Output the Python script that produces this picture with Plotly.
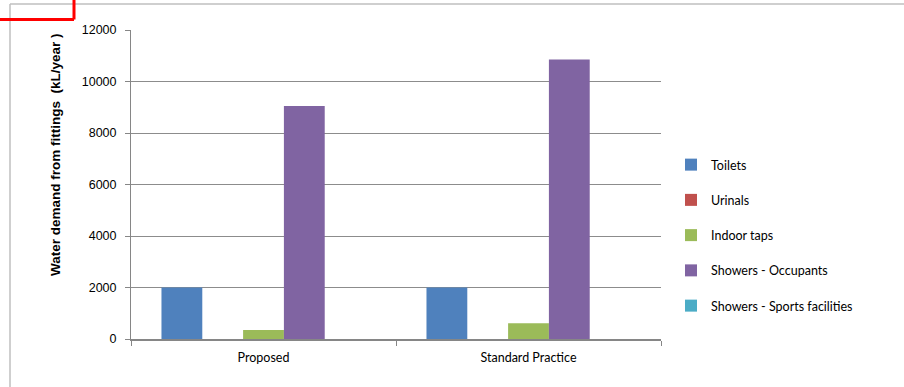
import plotly.graph_objects as go

categories = ["Proposed", "Standard Practice"]
series_names = ["Toilets", "Urinals", "Indoor taps", "Showers - Occupants", "Showers - Sports facilities"]
toilets = [2000, 2000]
urinals = [0, 0]
indoor_taps = [350, 610]
showers_occupants = [9050, 10850]
showers_sports = [0, 0]
colors = ["#4F81BD", "#C0504D", "#9BBB59", "#8064A2", "#4BACC6"]
y_ticks = [0, 2000, 4000, 6000, 8000, 10000, 12000]
y_tick_labels = ["0", "2000", "4000", "6000", "8000", "10000", "12000"]

values = [toilets, urinals, indoor_taps, showers_occupants, showers_sports]

W, H = 904, 387
L, R, T, B = 131, 243, 30, 48
pw, ph = W - L - R, H - T - B

def px_x(px):
    return (px - L) / pw

def px_y(py):
    return (H - B - py) / ph

fig = go.Figure()
for i, (name, vals, col) in enumerate(zip(series_names, values, colors)):
    fig.add_trace(go.Bar(x=categories, y=vals, name=name, marker_color=col,
                         marker_line_width=0, legendgroup=str(i)))

fig.update_layout(
    width=W, height=H,
    margin=dict(l=L, r=R, t=T, b=B),
    paper_bgcolor="white", plot_bgcolor="white",
    barmode="group", bargap=0.23, bargroupgap=0,
    font=dict(family="Lato", size=12, color="#000"),
    legend=dict(x=px_x(671), y=px_y(150), xanchor="left", yanchor="top",
                font=dict(family="Lato", size=12.5), tracegroupgap=16,
                itemclick=False, bgcolor="rgba(0,0,0,0)"),
    xaxis=dict(showline=True, linecolor="#868686", linewidth=2,
               ticks="outside", tickson="boundaries", ticklen=5, tickcolor="#868686",
               tickfont=dict(family="Lato", size=12.5), showgrid=False,
               ticklabelstandoff=6),
    yaxis=dict(range=[0, 12000], tickvals=y_ticks, ticktext=y_tick_labels, showline=True,
               linecolor="#868686", linewidth=1, ticks="outside", ticklen=5, tickcolor="#868686",
               showgrid=True, gridcolor="#8c8c8c", gridwidth=1, zeroline=False,
               tickfont=dict(family="Liberation Sans", size=12.5), ticklabelstandoff=6),
    showlegend=True,
)

fig.add_annotation(text="<b>Water demand from fittings  (kL/year )</b>", xref="paper", yref="paper",
                   x=px_x(55), y=px_y(155), xanchor="center", yanchor="middle",
                   textangle=-90, showarrow=False,
                   font=dict(family="Liberation Sans", size=13.5, color="#000"))

# chart frame border
fig.add_shape(type="line", xref="paper", yref="paper", x0=px_x(10), x1=px_x(910), y0=px_y(4), y1=px_y(4),
              line=dict(color="#bfbfbf", width=1.5))
fig.add_shape(type="line", xref="paper", yref="paper", x0=px_x(10), x1=px_x(10), y0=px_y(4), y1=px_y(395),
              line=dict(color="#bfbfbf", width=1.5))
# red annotation mark
fig.add_shape(type="line", xref="paper", yref="paper", x0=px_x(-2), x1=px_x(74), y0=px_y(19.5), y1=px_y(19.5),
              line=dict(color="#ff0000", width=3))
fig.add_shape(type="line", xref="paper", yref="paper", x0=px_x(74), x1=px_x(74), y0=px_y(-2), y1=px_y(19.5),
              line=dict(color="#ff0000", width=3))

fig.write_html("out.html")
